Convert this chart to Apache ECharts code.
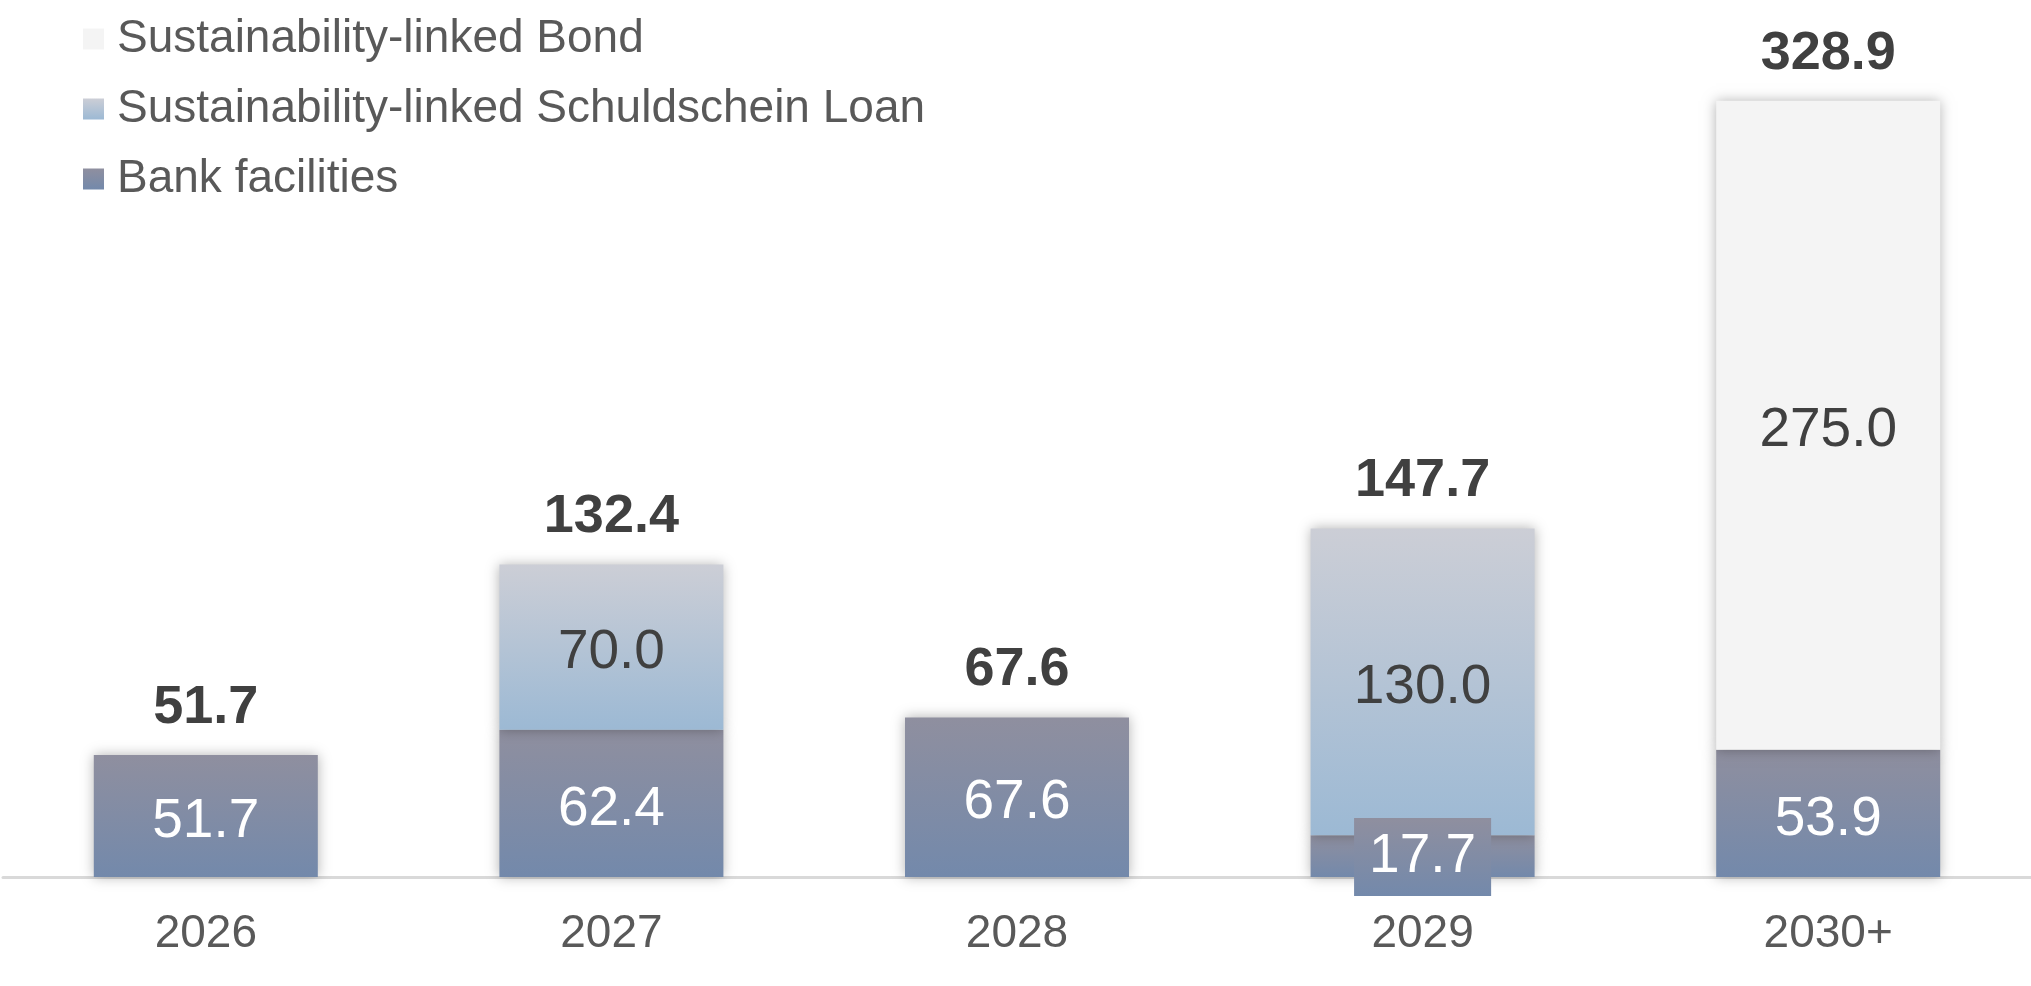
<!DOCTYPE html>
<html>
<head>
<meta charset="utf-8">
<script src="https://cdn.jsdelivr.net/npm/echarts@6/dist/echarts.min.js"></script>
<style>
html,body{margin:0;padding:0;background:#fff;}
#chart{width:2031px;height:986px;}
</style>
</head>
<body>
<div id="chart"></div>
<script>
const categories = ['2026', '2027', '2028', '2029', '2030+'];
const bankFacilities = [51.7, 62.4, 67.6, 17.7, 53.9];
const schuldscheinLoan = [null, 70.0, null, 130.0, null];
const sustainabilityBond = [null, null, null, null, 275.0];
const totals = [51.7, 132.4, 67.6, 147.7, 328.9];
const seriesNames = ['Bank facilities', 'Sustainability-linked Schuldschein Loan', 'Sustainability-linked Bond'];

const FONT = '"Liberation Sans", Arial, sans-serif';
const grad = (top, bottom) => new echarts.graphic.LinearGradient(0, 0, 0, 1, [
  {offset: 0, color: top}, {offset: 1, color: bottom}
]);
const bankColor = grad('#8f8f9f', '#7389ab');
const sslColor = grad('#ccced6', '#9cb9d4');
const bondColor = '#f4f4f4';
const shadow = {shadowBlur: 12, shadowColor: 'rgba(0,0,0,0.3)', shadowOffsetX: 0, shadowOffsetY: 0};
const fmt = p => (p.value == null ? '' : Number(p.value).toFixed(1));

const bankData = bankFacilities.map((v, i) => {
  if (categories[i] === '2029') {
    return {
      value: v,
      label: {
        backgroundColor: grad('#8f8f9f', '#7389ab'),
        padding: [12, 15],
        lineHeight: 54,
        offset: [0, 1]
      }
    };
  }
  return v;
});

const chart = echarts.init(document.getElementById('chart'), null, {renderer: 'canvas'});
chart.setOption({
  animation: false,
  backgroundColor: '#ffffff',
  textStyle: {fontFamily: FONT},
  legend: {
    orient: 'vertical',
    left: 83,
    top: 16,
    padding: 0,
    itemWidth: 21,
    itemHeight: 21,
    itemGap: 24,
    icon: 'rect',
    data: [seriesNames[2], seriesNames[1], seriesNames[0]],
    textStyle: {fontFamily: FONT, fontSize: 46, color: '#595959', lineHeight: 46, padding: [0, 0, 0, 8]},
    selectedMode: false
  },
  grid: {left: 3, right: 0, top: 51, bottom: 109, containLabel: false},
  xAxis: {
    type: 'category',
    data: categories,
    axisTick: {show: false},
    axisLine: {show: true, lineStyle: {color: '#d9d9d9', width: 3}},
    axisLabel: {fontFamily: FONT, fontSize: 46, color: '#595959', margin: 34}
  },
  yAxis: {
    type: 'value', min: 0, max: 350, show: false,
    splitLine: {show: false}
  },
  series: [
    {
      name: seriesNames[0], type: 'bar', stack: 'debt', barWidth: 224,
      data: bankData,
      itemStyle: Object.assign({color: bankColor}, shadow),
      label: {show: true, position: 'inside', offset: [0, 6], formatter: fmt, color: '#ffffff', fontFamily: FONT, fontSize: 55}
    },
    {
      name: seriesNames[1], type: 'bar', stack: 'debt', barWidth: 224,
      data: schuldscheinLoan,
      itemStyle: Object.assign({color: sslColor}, shadow),
      label: {show: true, position: 'inside', offset: [0, 6], formatter: fmt, color: '#404040', fontFamily: FONT, fontSize: 55}
    },
    {
      name: seriesNames[2], type: 'bar', stack: 'debt', barWidth: 224,
      data: sustainabilityBond,
      itemStyle: Object.assign({color: bondColor}, shadow),
      label: {show: true, position: 'inside', offset: [0, 6], formatter: fmt, color: '#404040', fontFamily: FONT, fontSize: 55}
    },
    {
      name: 'Total', type: 'bar', barWidth: 224, barGap: '-100%',
      data: totals, z: 1, silent: true,
      itemStyle: {color: 'rgba(0,0,0,0)'},
      label: {show: true, position: 'top', distance: 20, formatter: fmt, color: '#404040', fontFamily: FONT, fontSize: 54, fontWeight: 'bold'}
    }
  ]
});
</script>
</body>
</html>
